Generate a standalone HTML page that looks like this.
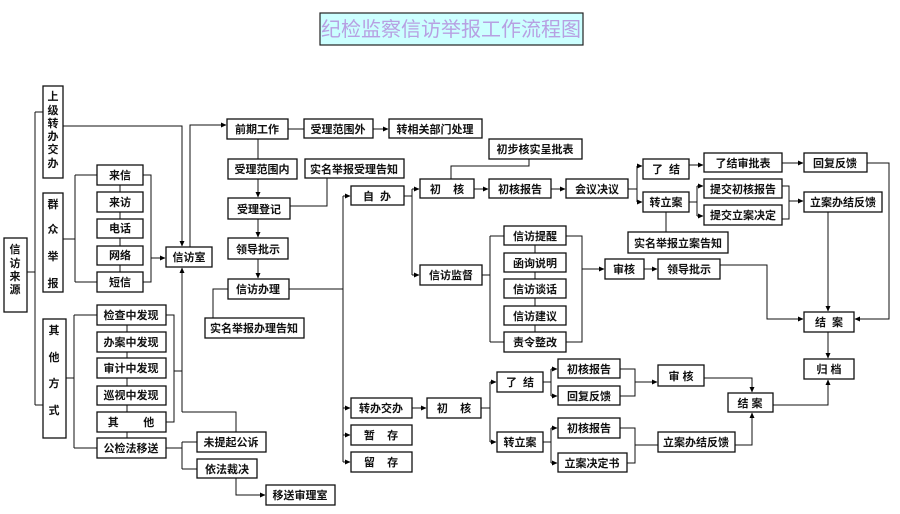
<!DOCTYPE html>
<html><head><meta charset="utf-8"><style>
body{margin:0;background:#fff}
svg text{font-family:"Liberation Sans","Noto Sans CJK SC",sans-serif;font-size:11px;font-weight:bold;fill:#111;white-space:pre}
</style></head><body>
<svg width="900" height="509" viewBox="0 0 900 509" xmlns="http://www.w3.org/2000/svg">
<defs><marker id="a" markerWidth="6" markerHeight="6" refX="5" refY="3" orient="auto" markerUnits="userSpaceOnUse"><path d="M0,0.5 L5.5,3 L0,5.5z" fill="#000"/></marker></defs>
<rect x="320" y="13" width="263" height="32" fill="#ccffff" stroke="#222" stroke-width="1.2"/>
<text x="451" y="36" text-anchor="middle" style="font-size:20px;font-weight:normal;fill:#b7a0e2">纪检监察信访举报工作流程图</text>
<g fill="none" stroke="#111" stroke-width="1">
<path d="M27,272H35M35,112V405M35,112H43M35,405H43"/>
<path d="M63,239H75M75,175V282M75,175H97M75,282H97M120,185V272M143,175H151V282H143"/>
<path d="M151,258H165" marker-end="url(#a)"/>
<path d="M63,126H182V246" marker-end="url(#a)"/>
<path d="M190,247V125H226" marker-end="url(#a)"/>
<path d="M182,412V268" marker-end="url(#a)"/>
<path d="M182,412H236V432"/>
<path d="M166,315H174V422H166M174,371H182"/>
<path d="M66,378H74M74,315V448M74,315H97M74,448H97M127,325V438"/>
<path d="M166,448H182M182,442V469M182,442H197M182,469H197"/>
<path d="M236,478V495H265" marker-end="url(#a)"/>
<path d="M288,129H304"/>
<path d="M373,129H388" marker-end="url(#a)"/>
<path d="M258,139V159"/>
<path d="M258,179V197" marker-end="url(#a)"/>
<path d="M258,219V237" marker-end="url(#a)"/>
<path d="M258,259V278" marker-end="url(#a)"/>
<path d="M290,206H327V178"/>
<path d="M289,289H343M228,289H213V318"/>
<path d="M343,196V462"/>
<path d="M343,196H350" marker-end="url(#a)"/>
<path d="M343,408H350" marker-end="url(#a)"/>
<path d="M343,435H350" marker-end="url(#a)"/>
<path d="M343,462H350" marker-end="url(#a)"/>
<path d="M404,196H412M412,189V275"/>
<path d="M412,189H419" marker-end="url(#a)"/>
<path d="M412,275H419" marker-end="url(#a)"/>
<path d="M451,179V166H529V159"/>
<path d="M474,189H488" marker-end="url(#a)"/>
<path d="M551,189H565" marker-end="url(#a)"/>
<path d="M628,189H637M637,166V202"/>
<path d="M637,166H642" marker-end="url(#a)"/>
<path d="M637,202H642" marker-end="url(#a)"/>
<path d="M689,165H703" marker-end="url(#a)"/>
<path d="M782,163H803" marker-end="url(#a)"/>
<path d="M867,163H889V319H855" marker-end="url(#a)"/>
<path d="M689,202H697M697,186V216"/>
<path d="M697,186H703" marker-end="url(#a)"/>
<path d="M697,216H703" marker-end="url(#a)"/>
<path d="M782,186H789V219H782"/>
<path d="M789,201H803" marker-end="url(#a)"/>
<path d="M666,212V232"/>
<path d="M482,275H490M490,236V342M490,236H504M490,342H504M535,245V332M566,236H582V342H566"/>
<path d="M582,269H604" marker-end="url(#a)"/>
<path d="M644,269H657" marker-end="url(#a)"/>
<path d="M720,265H767V319H803" marker-end="url(#a)"/>
<path d="M828,212V311" marker-end="url(#a)"/>
<path d="M828,332V358" marker-end="url(#a)"/>
<path d="M412,408H426" marker-end="url(#a)"/>
<path d="M481,408H490M490,382V442"/>
<path d="M490,382H496" marker-end="url(#a)"/>
<path d="M490,442H496" marker-end="url(#a)"/>
<path d="M543,382H551M551,369V396"/>
<path d="M551,369H557" marker-end="url(#a)"/>
<path d="M551,396H557" marker-end="url(#a)"/>
<path d="M543,442H551M551,428V463"/>
<path d="M551,428H557" marker-end="url(#a)"/>
<path d="M551,463H557" marker-end="url(#a)"/>
<path d="M620,369H635V396H620"/>
<path d="M635,382H657" marker-end="url(#a)"/>
<path d="M620,428H635V463H627"/>
<path d="M635,445H658"/>
<path d="M704,378H752V392" marker-end="url(#a)"/>
<path d="M735,445H752V413" marker-end="url(#a)"/>
<path d="M773,405H828V380" marker-end="url(#a)"/>
</g>
<g fill="#fff" stroke="#111" stroke-width="1.3">
<rect x="4" y="238" width="23" height="74"/>
<rect x="43" y="86" width="20" height="92"/>
<rect x="43" y="193" width="20" height="99"/>
<rect x="43" y="319" width="23" height="119"/>
<rect x="97" y="165" width="46" height="20"/><rect x="97" y="192" width="46" height="20"/><rect x="97" y="219" width="46" height="19"/><rect x="97" y="246" width="46" height="19"/><rect x="97" y="272" width="46" height="20"/>
<rect x="166" y="247" width="46" height="20"/>
<rect x="97" y="305" width="69" height="20"/><rect x="97" y="332" width="69" height="20"/><rect x="97" y="358" width="69" height="20"/><rect x="97" y="386" width="69" height="19"/><rect x="97" y="412" width="69" height="20"/><rect x="97" y="438" width="69" height="20"/>
<rect x="197" y="432" width="69" height="20"/><rect x="197" y="459" width="60" height="19"/><rect x="266" y="485" width="69" height="20"/>
<rect x="227" y="119" width="61" height="20"/><rect x="304" y="119" width="69" height="19"/><rect x="389" y="119" width="93" height="19"/>
<rect x="228" y="159" width="69" height="20"/><rect x="305" y="159" width="99" height="19"/>
<rect x="228" y="198" width="62" height="21"/><rect x="228" y="238" width="60" height="21"/><rect x="228" y="279" width="61" height="20"/>
<rect x="205" y="318" width="99" height="20"/>
<rect x="351" y="186" width="53" height="19"/>
<rect x="420" y="179" width="54" height="19"/><rect x="420" y="265" width="62" height="20"/>
<rect x="489" y="139" width="93" height="20"/><rect x="489" y="179" width="62" height="19"/><rect x="566" y="179" width="62" height="19"/>
<rect x="643" y="159" width="46" height="20"/><rect x="643" y="192" width="46" height="20"/>
<rect x="704" y="153" width="78" height="19"/><rect x="804" y="153" width="63" height="19"/>
<rect x="704" y="179" width="78" height="19"/><rect x="704" y="205" width="78" height="20"/><rect x="804" y="192" width="78" height="20"/>
<rect x="628" y="232" width="100" height="21"/>
<rect x="504" y="226" width="62" height="19"/><rect x="504" y="253" width="62" height="19"/><rect x="504" y="279" width="62" height="19"/><rect x="504" y="306" width="62" height="19"/><rect x="504" y="332" width="62" height="20"/>
<rect x="605" y="259" width="39" height="20"/><rect x="658" y="259" width="62" height="20"/>
<rect x="804" y="312" width="50" height="20"/><rect x="804" y="359" width="50" height="20"/>
<rect x="351" y="398" width="61" height="20"/><rect x="351" y="425" width="61" height="20"/><rect x="351" y="452" width="61" height="20"/>
<rect x="427" y="398" width="54" height="20"/>
<rect x="497" y="372" width="46" height="20"/><rect x="497" y="432" width="46" height="20"/>
<rect x="558" y="359" width="62" height="19"/><rect x="558" y="386" width="62" height="19"/><rect x="558" y="418" width="62" height="20"/><rect x="558" y="453" width="69" height="19"/>
<rect x="658" y="365" width="46" height="21"/><rect x="658" y="432" width="77" height="20"/>
<rect x="728" y="393" width="45" height="19"/>
</g>
<g text-anchor="middle" style="font-size:12px">
<text x="15" y="253">信</text><text x="15" y="267">访</text><text x="15" y="280">来</text><text x="15" y="293">源</text>
<text x="53" y="100">上</text><text x="53" y="114">级</text><text x="53" y="127">转</text><text x="53" y="140">办</text><text x="53" y="153">交</text><text x="53" y="167">办</text>
<text x="53" y="208">群</text><text x="53" y="233">众</text><text x="53" y="260">举</text><text x="53" y="287">报</text>
<text x="54" y="334">其</text><text x="54" y="361">他</text><text x="54" y="387">方</text><text x="54" y="414">式</text>
</g>
<g text-anchor="middle">
<text x="120" y="179">来信</text><text x="120" y="206">来访</text><text x="120" y="232">电话</text><text x="120" y="259">网络</text><text x="120" y="286">短信</text>
<text x="189" y="261">信访室</text>
<text x="131" y="319">检查中发现</text><text x="131" y="346">办案中发现</text><text x="131" y="372">审计中发现</text><text x="131" y="399">巡视中发现</text><text x="131" y="426">其        他</text><text x="131" y="452">公检法移送</text>
<text x="231" y="446">未提起公诉</text><text x="227" y="473">依法裁决</text><text x="300" y="499">移送审理室</text>
<text x="257" y="133">前期工作</text><text x="338" y="133">受理范围外</text><text x="435" y="133">转相关部门处理</text>
<text x="262" y="173">受理范围内</text><text x="354" y="173">实名举报受理告知</text>
<text x="259" y="213">受理登记</text><text x="258" y="253">领导批示</text><text x="258" y="293">信访办理</text>
<text x="254" y="332">实名举报办理告知</text>
<text x="377" y="200">自  办</text>
<text x="447" y="193">初    核</text><text x="451" y="279">信访监督</text>
<text x="535" y="153">初步核实呈批表</text><text x="520" y="193">初核报告</text><text x="597" y="193">会议决议</text>
<text x="666" y="173">了  结</text><text x="666" y="206">转立案</text>
<text x="743" y="167">了结审批表</text><text x="835" y="167">回复反馈</text>
<text x="743" y="193">提交初核报告</text><text x="743" y="219">提交立案决定</text><text x="843" y="206">立案办结反馈</text>
<text x="678" y="247">实名举报立案告知</text>
<text x="535" y="240">信访提醒</text><text x="535" y="267">函询说明</text><text x="535" y="293">信访谈话</text><text x="535" y="320">信访建议</text><text x="535" y="346">责令整改</text>
<text x="624" y="273">审核</text><text x="689" y="273">领导批示</text>
<text x="829" y="326">结  案</text><text x="829" y="373">归 档</text>
<text x="381" y="412">转办交办</text><text x="381" y="439">暂    存</text><text x="381" y="466">留    存</text>
<text x="454" y="412">初    核</text>
<text x="520" y="386">了  结</text><text x="520" y="446">转立案</text>
<text x="589" y="373">初核报告</text><text x="589" y="400">回复反馈</text><text x="589" y="432">初核报告</text><text x="592" y="467">立案决定书</text>
<text x="681" y="380">审 核</text><text x="696" y="446">立案办结反馈</text>
<text x="750" y="407">结 案</text>
</g>
</svg>
</body></html>
